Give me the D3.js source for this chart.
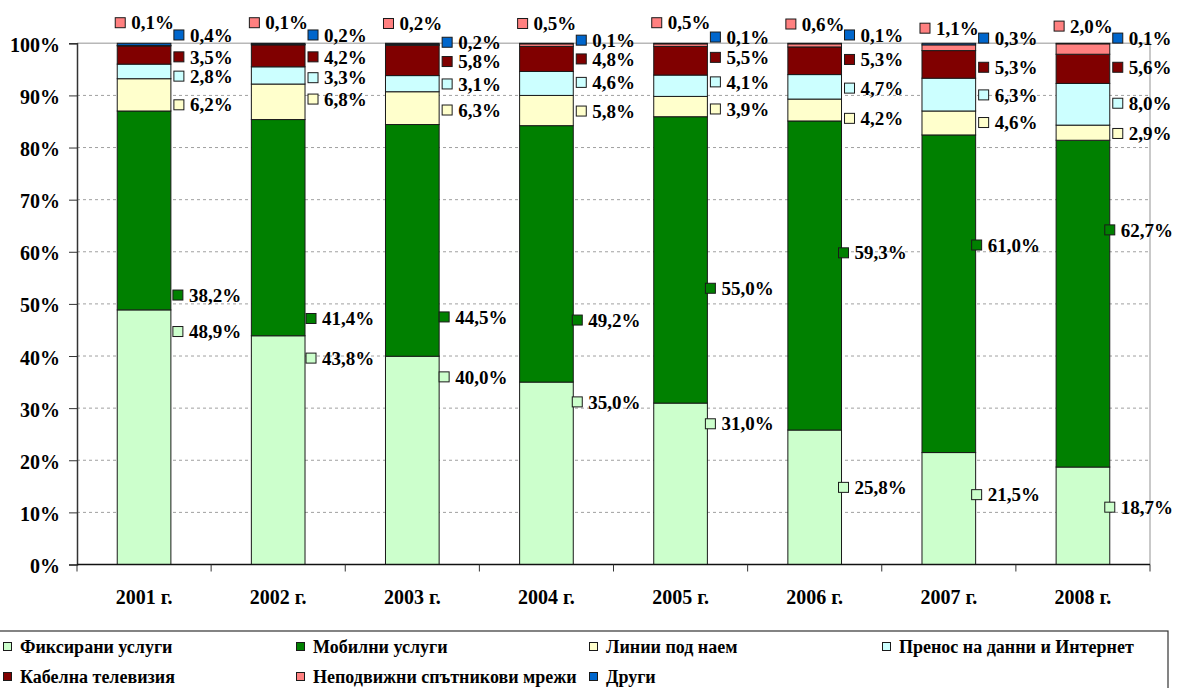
<!DOCTYPE html>
<html><head><meta charset="utf-8">
<script src="https://cdn.jsdelivr.net/npm/d3@7"></script>
<style>
html,body{margin:0;padding:0;background:#fff;}
svg{display:block;}
svg text{font-family:"Liberation Serif","Times New Roman",serif;font-weight:bold;}
</style></head>
<body><svg id="c" width="1179" height="688"></svg>
<script>
const years = ["2001 г.","2002 г.","2003 г.","2004 г.","2005 г.","2006 г.","2007 г.","2008 г."];
const seriesNames = ["Фиксирани услуги","Мобилни услуги","Линии под наем","Пренос на данни и Интернет","Кабелна телевизия","Неподвижни спътникови мрежи","Други"];
const fixed     = [48.9, 43.8, 40.0, 35.0, 31.0, 25.8, 21.5, 18.7];
const mobile    = [38.2, 41.4, 44.5, 49.2, 55.0, 59.3, 61.0, 62.7];
const leased    = [6.2, 6.8, 6.3, 5.8, 3.9, 4.2, 4.6, 2.9];
const dataNet   = [2.8, 3.3, 3.1, 4.6, 4.1, 4.7, 6.3, 8.0];
const cable     = [3.5, 4.2, 5.8, 4.8, 5.5, 5.3, 5.3, 5.6];
const satellite = [0.1, 0.1, 0.2, 0.5, 0.5, 0.6, 1.1, 2.0];
const other     = [0.4, 0.2, 0.2, 0.1, 0.1, 0.1, 0.3, 0.1];
const yTicks = [0,0.1,0.2,0.3,0.4,0.5,0.6,0.7,0.8,0.9,1];
// where each series' value label sits on the percent axis (as placed in the original)
const labelAt = [
  [44.7, 39.6, 36.0, 31.2, 27.0, 14.8, 13.4, 11.0],
  [51.7, 47.2, 47.5, 46.9, 53.0, 59.8, 61.3, 64.2],
  [88.2, 89.3, 87.2, 87.0, 87.4, 85.6, 84.8, 82.7],
  [93.7, 93.4, 92.2, 92.5, 92.6, 91.4, 90.1, 88.5],
  [97.4, 97.4, 96.5, 97.0, 97.3, 96.9, 95.4, 95.4],
  [103.95, 103.95, 103.8, 103.8, 103.95, 103.7, 102.9, 103.3],
  [101.6, 101.6, 100.2, 100.6, 101.2, 101.6, 101.0, 101.0]
];
const colors = ["#CCFFCC","#008000","#FFFFCC","#CCFFFF","#800000","#FF8080","#0066CC"];

const allSeries = [fixed, mobile, leased, dataNet, cable, satellite, other];
const rows = years.map((y,i)=>{const r={year:y}; seriesNames.forEach((s,k)=>r[s]=allSeries[k][i]); return r;});

const svg = d3.select("#c");
const L=77, R=1150, T=43.3, B=564.5;
const x = d3.scaleBand().domain(years).range([L,R]).paddingInner(0.6).paddingOuter(0.3);
const y = d3.scaleLinear().domain([0,1]).range([B,T]);

// gridlines
svg.append("g").selectAll("line").data(yTicks.filter(t=>t>0&&t<1)).join("line")
  .attr("x1",L).attr("x2",R).attr("y1",d=>y(d)).attr("y2",d=>y(d))
  .attr("stroke","#a0a0a0").attr("stroke-dasharray","3,3").attr("stroke-width",1);
// plot border top/right
svg.append("path").attr("d",`M${L},${y(1)}H${R}V${B}`).attr("fill","none").attr("stroke","#b8b8b8").attr("stroke-width",1.5);

const stack = d3.stack().keys(seriesNames).offset(d3.stackOffsetExpand);
const layers = stack(rows);

svg.append("g").selectAll("g").data(layers).join("g")
  .attr("fill",(d,i)=>colors[i])
  .selectAll("rect").data(d=>d).join("rect")
  .attr("x",d=>x(d.data.year)).attr("width",x.bandwidth())
  .attr("y",d=>y(d[1])).attr("height",d=>y(d[0])-y(d[1]))
  .attr("stroke","#1a1a1a").attr("stroke-width",1);

// axes
const yAxis = d3.axisLeft(y).tickValues(yTicks).tickFormat(d3.format(".0%")).tickSize(8).tickPadding(9);
const gy = svg.append("g").attr("transform",`translate(${L},0)`).call(yAxis);
gy.attr("font-family",null);
gy.select(".domain").attr("stroke","#333").attr("stroke-width",1.5);
gy.selectAll(".tick line").attr("stroke","#333");
gy.selectAll("text").attr("font-size",20).attr("fill","#000").attr("dy","0.4em");

const xAxis = d3.axisBottom(x).tickSize(0).tickPadding(25);
const gx = svg.append("g").attr("transform",`translate(0,${B})`).call(xAxis);
gx.attr("font-family",null);
gx.select(".domain").attr("stroke","#111").attr("stroke-width",1.5).attr("d",`M${L},0H${R}`);
gx.selectAll("text").attr("font-size",20).attr("fill","#000");
// category boundary ticks
svg.append("g").selectAll("line").data(d3.range(years.length+1)).join("line")
  .attr("x1",i=>L+i*x.step()).attr("x2",i=>L+i*x.step())
  .attr("y1",B).attr("y2",B+7).attr("stroke","#333");

// value labels
const lab = svg.append("g");
layers.forEach((layer,k)=>{
  layer.forEach((d,i)=>{
    const val = allSeries[k][i];
    let sx;
    if (k===5) sx = x(years[i]) - 2;
    else if (k<2) sx = x(years[i]) + x.bandwidth() + 2 - i;
    else sx = x(years[i]) + x.bandwidth() + 3;
    const cy = y(labelAt[k][i]/100);
    lab.append("rect").attr("x",sx).attr("y",cy-5).attr("width",10).attr("height",10)
      .attr("fill",colors[k]).attr("stroke","#1a1a1a").attr("stroke-width",1);
    lab.append("text").attr("x",sx+16).attr("y",cy).attr("dy","0.35em")
      .attr("font-size",19).attr("fill","#000")
      .text(d3.format(".1f")(val).replace(".",",")+"%");
  });
});

// legend
const lg = svg.append("g");
lg.append("rect").attr("x",-2).attr("y",631).attr("width",1170).attr("height",70)
  .attr("fill","none").attr("stroke","#333").attr("stroke-width",1.2);
seriesNames.forEach((s,k)=>{
  const col = k%4, row = Math.floor(k/4);
  const lx = 3 + col*293, ly = 647 + row*30;
  lg.append("rect").attr("x",lx+0.5).attr("y",ly-4.5).attr("width",8).attr("height",8)
    .attr("fill",colors[k]).attr("stroke","#1a1a1a").attr("stroke-width",1);
  lg.append("text").attr("x",lx+17).attr("y",ly).attr("dy","0.35em").attr("font-size",18).attr("fill","#000").text(s);
});
</script></body></html>
